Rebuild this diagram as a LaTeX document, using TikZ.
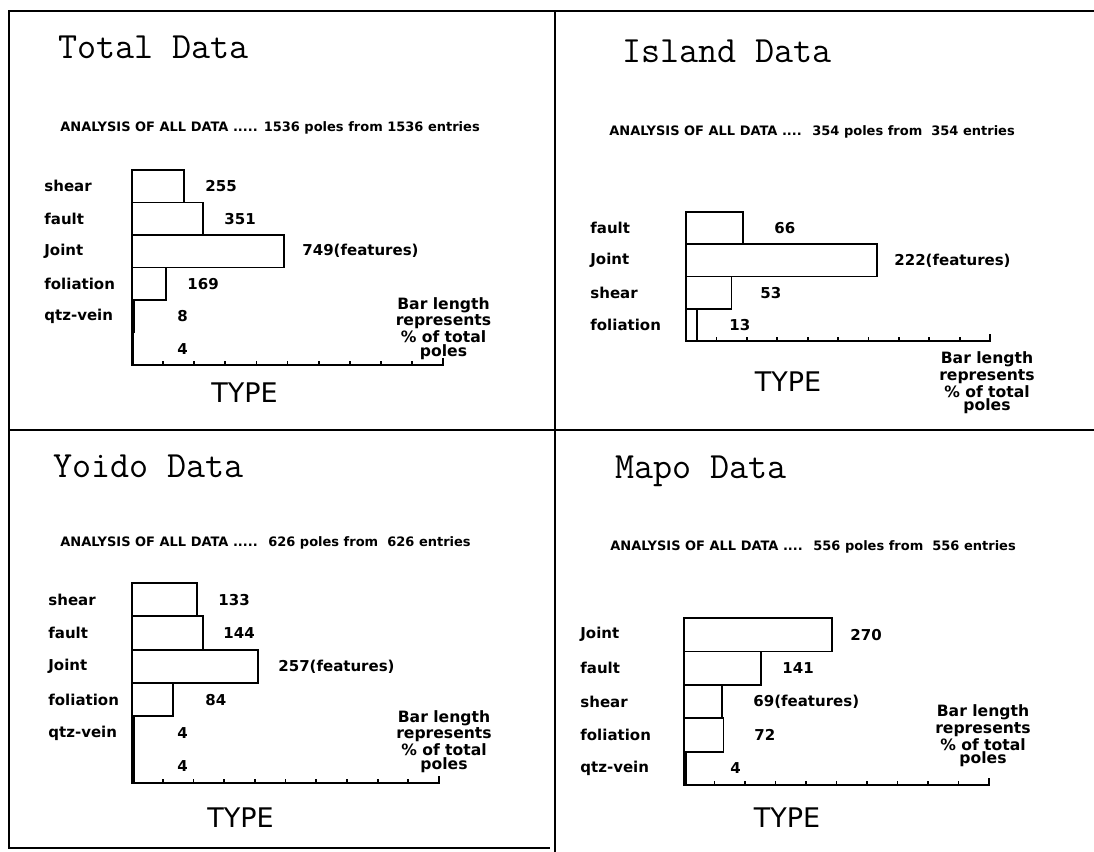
\documentclass[tikz,border=0pt]{standalone}
\usepackage{fontspec}
\setsansfont{DejaVu Sans}
\usetikzlibrary{positioning}

% axis with ten divisions under a bar chart: x0, top, axis y, length
\newcommand{\poleaxis}[4]{%
  \draw[bar] (#1,#2) -- (#1,#3) -- ({#1+#4},#3) -- ++(0,-7);
  \foreach \k in {1,...,9} \draw[bar] ({#1+\k*#4/10},#3) -- ++(0,-4);
}

\begin{document}
\begin{tikzpicture}[
  x=0.5pt, y=-0.5pt,
  frame/.style={line width=1.1pt},
  bar/.style={draw, line width=0.9pt},
  ttl/.style={anchor=base west, inner sep=0, font=\ttfamily\fontsize{18.5}{20}\selectfont},
  head/.style={anchor=west, inner sep=0, font=\sffamily\bfseries\fontsize{6.5}{7}\selectfont},
  lbl/.style={anchor=west, inner sep=0, font=\sffamily\bfseries\fontsize{7.5}{8}\selectfont},
  note/.style={align=center, inner sep=0, font=\sffamily\bfseries\fontsize{7.8}{6.8}\selectfont},
  axname/.style={inner sep=0, font=\sffamily\fontsize{13.5}{14}\selectfont}
]
  \useasboundingbox (0,0) rectangle (1094,852);

  % frame and dividers
  \draw[frame] (1094,11) -- (9,11) -- (9,848) -- (550,848);
  \draw[frame] (555,11) -- (555,852);
  \draw[frame] (9,430) -- (1094,430);

  % Total
  \node[ttl] (totT) at (58,58) {Total Data};
  \node[head] (totH) at (60,128) {ANALYSIS OF ALL DATA ..... 1536 poles from 1536 entries};
  \foreach \lab/\n/\sfx/\cx [count=\i from 0] in
      {shear/255/{}/205, fault/351/{}/224, Joint/749/(features)/302,
       foliation/169/{}/187, qtz-vein/8/{}/177, {}/4/{}/177} {
    \draw[bar] (132,{170+\i*32.5}) rectangle ({132+\n/1536*311},{170+(\i+1)*32.5});
    \node[lbl] (tot-l\i) at (44,{186.25+\i*32.5}) {\lab};
    \node[lbl] (tot-n\i) at (\cx,{186.25+\i*32.5}) {\n\sfx};
  }
  \poleaxis{132}{170}{365}{311}
  \node[note] (totN) at (443.5,328.5) {Bar length\\represents\\\% of total\\poles};
  \node[axname] (totX) at (244.5,393) {TYPE};

  % Island
  \node[ttl] (islT) at (622,62) {Island Data};
  \node[head] (islH) at (609,132) {ANALYSIS OF ALL DATA ....~ 354 poles from~ 354 entries};
  \foreach \lab/\n/\sfx/\cx [count=\i from 0] in
      {fault/66/{}/774, Joint/222/(features)/894, shear/53/{}/760, foliation/13/{}/729} {
    \draw[bar] (686,{212+\i*32.25}) rectangle ({686+\n/354*304},{212+(\i+1)*32.25});
    \node[lbl] (isl-l\i) at (590,{228.1+\i*32.25}) {\lab};
    \node[lbl] (isl-n\i) at (\cx,{228.1+\i*32.25}) {\n\sfx};
  }
  \poleaxis{686}{212}{341}{304}
  \node[note] (islN) at (987,383) {Bar length\\represents\\\% of total\\poles};
  \node[axname] (islX) at (788,382) {TYPE};

  % Yoido
  \node[ttl] (yoiT) at (53,477) {Yoido Data};
  \node[head] (yoiH) at (60,543) {ANALYSIS OF ALL DATA .....~ 626 poles from~ 626 entries};
  \foreach \lab/\n/\sfx/\cx [count=\i from 0] in
      {shear/133/{}/218, fault/144/{}/223, Joint/257/(features)/278,
       foliation/84/{}/205, qtz-vein/4/{}/177, {}/4/{}/177} {
    \draw[bar] (132,{583+\i*33.33}) rectangle ({132+\n/626*307},{583+(\i+1)*33.33});
    \node[lbl] (yoi-l\i) at (48,{599.7+\i*33.33}) {\lab};
    \node[lbl] (yoi-n\i) at (\cx,{599.7+\i*33.33}) {\n\sfx};
  }
  \poleaxis{132}{583}{783}{307}
  \node[note] (yoiN) at (444,741.5) {Bar length\\represents\\\% of total\\poles};
  \node[axname] (yoiX) at (240.5,818) {TYPE};

  % Mapo
  \node[ttl] (mapT) at (615,478) {Mapo Data};
  \node[head] (mapH) at (610,547) {ANALYSIS OF ALL DATA ....~ 556 poles from~ 556 entries};
  \foreach \lab/\n/\sfx/\cx [count=\i from 0] in
      {Joint/270/{}/850, fault/141/{}/782, shear/69/(features)/753,
       foliation/72/{}/754, qtz-vein/4/{}/730} {
    \draw[bar] (684,{618+\i*33.4}) rectangle ({684+\n/556*305},{618+(\i+1)*33.4});
    \node[lbl] (map-l\i) at (580,{634.7+\i*33.4}) {\lab};
    \node[lbl] (map-n\i) at (\cx,{634.7+\i*33.4}) {\n\sfx};
  }
  \poleaxis{684}{618}{785}{305}
  \node[note] (mapN) at (983,736) {Bar length\\represents\\\% of total\\poles};
  \node[axname] (mapX) at (787,818) {TYPE};
\end{tikzpicture}
\end{document}
